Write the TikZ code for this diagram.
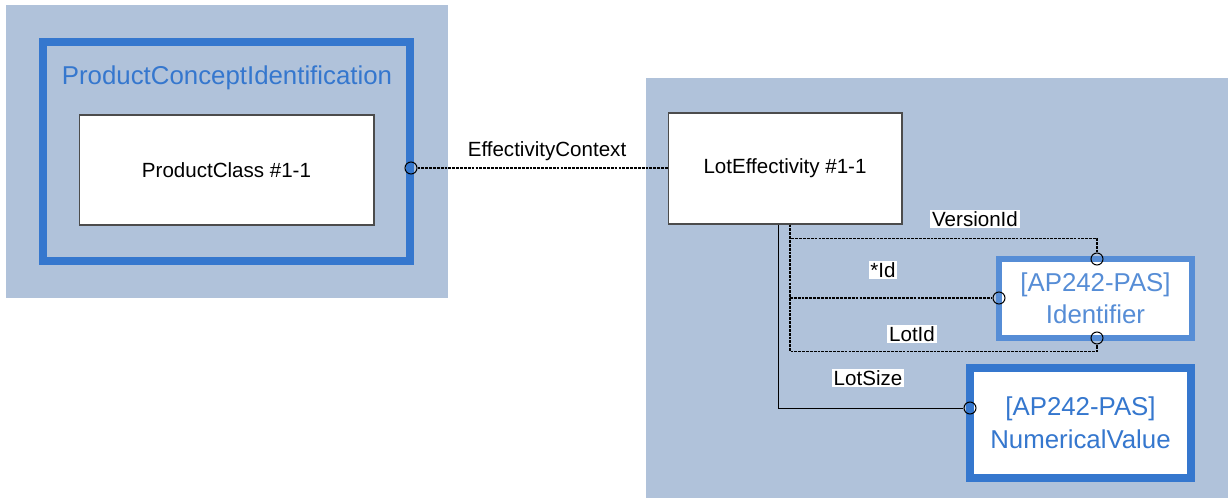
\documentclass[tikz,border=0pt]{standalone}
\usepackage{fontspec}
\setmainfont{Liberation Sans}
\usetikzlibrary{positioning}
\definecolor{panelbg}{RGB}{176,194,218}
\definecolor{grpblue}{RGB}{53,119,206}
\definecolor{idblue}{RGB}{86,141,214}
\newcommand{\lblfont}{\fontsize{11.7}{14}\selectfont}
\newcommand{\bigfont}{\fontsize{14.7}{18.5}\selectfont}

\begin{document}
\begin{tikzpicture}[x=0.02cm,y=-0.02cm,
  panel/.style={rectangle,fill=panelbg,inner sep=0pt},
  grp/.style={rectangle,draw=grpblue,line width=4.5pt,inner sep=0pt},
  cls/.style={rectangle,draw=gray!60!black,fill=white,line width=0.6pt,align=center,font=\lblfont},
  ext/.style={rectangle,draw=#1,fill=white,inner sep=0pt,align=center,font=\bigfont,text=#1},
  port/.style={circle,draw=black,line width=0.6pt,minimum size=0.24cm,inner sep=0pt},
  lbl/.style={fill=white,inner sep=1pt,font=\lblfont},
  link/.style={line width=0.8pt,dash pattern=on 1.6pt off 0.6pt},
  solidlink/.style={line width=0.5pt}
]
  \useasboundingbox (0,0) rectangle (1231,501);
  % panels
  \node[panel,minimum width=8.84cm,minimum height=5.86cm] (lpanel) at (227,151.5) {};
  \node[panel,minimum width=11.64cm,minimum height=8.4cm] (rpanel) at (937,288) {};

  \node[grp,minimum width=7.34cm,minimum height=4.38cm] (pci) at (226.5,151.5) {};
  \node[font=\bigfont,text=grpblue] (pcititle) at (227,78) {ProductConceptIdentification};
  \node[cls,minimum width=5.9cm,minimum height=2.2cm] (pclass) at (226.5,170) {ProductClass \#1-1};
  \node[cls,minimum width=4.68cm,minimum height=2.22cm] (lot) at (785,168.5) {LotEffectivity \#1-1};
  \node[ext=idblue,line width=3.4pt,minimum width=3.86cm,minimum height=1.58cm] (ident) at (1095.5,298.5) {[AP242-PAS]\\Identifier};
  \node[ext=grpblue,line width=4.5pt,minimum width=4.42cm,minimum height=2.2cm] (numval) at (1080.5,423) {[AP242-PAS]\\NumericalValue};

  % ports
  \node[port] (pEff) at (411,168) {};
  \node[port] (pVer) at (1097,259) {};
  \node[port] (pId) at (999,298) {};
  \node[port] (pLot) at (1097,338) {};
  \node[port] (pSize) at (970,408) {};

  % connectors
  \draw[link] (pEff.east) -- (lot.west |- pEff);
  \draw[link] ([xshift=0.1cm]lot.south) -- ++(0,14) -| (pVer.north);
  \draw[link] ([xshift=0.1cm]lot.south) |- (pId.west);
  \draw[link] ([xshift=0.1cm]lot.south) -- ++(0,127) -| (pLot.south);
  \draw[solidlink] ([xshift=-0.14cm]lot.south) |- (pSize.west);

  % labels
  \node[lbl] (lEff) at (547,151) {EffectivityContext};
  \node[lbl] (lVer) at (975,219) {VersionId};
  \node[lbl] (lId) at (883,270) {*Id};
  \node[lbl] (lLot) at (912,334) {LotId};
  \node[lbl] (lSize) at (868,378) {LotSize};
\end{tikzpicture}
\end{document}
